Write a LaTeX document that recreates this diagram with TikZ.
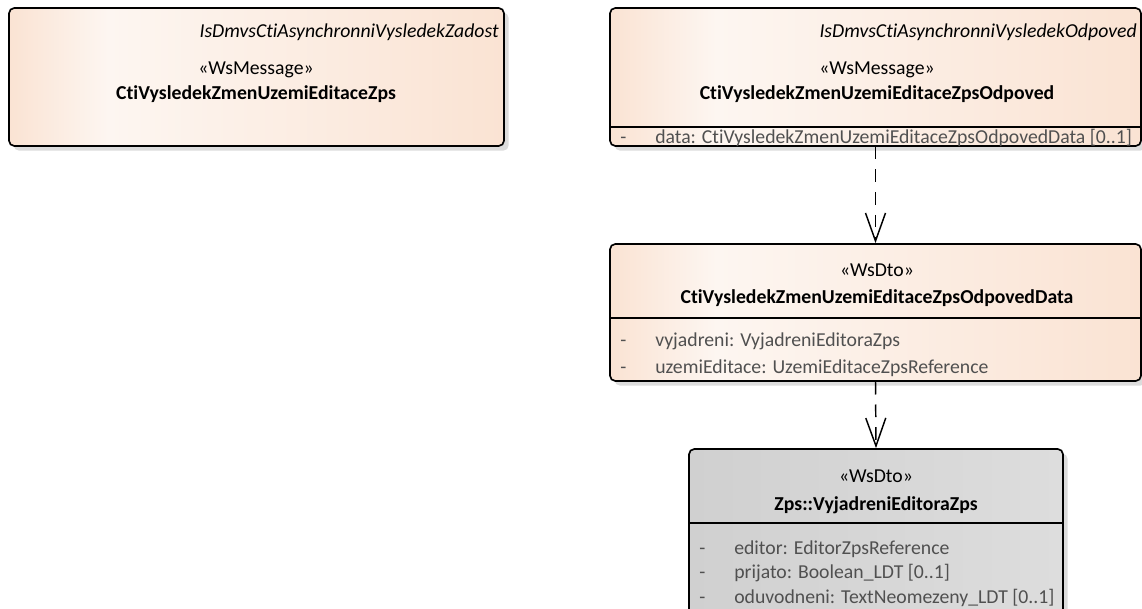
\documentclass[tikz,border=0pt]{standalone}
\usepackage{fontspec}
\setmainfont[Ligatures=NoCommon]{Carlito}
\usetikzlibrary{arrows.meta,fit,shadows}
\definecolor{pk}{RGB}{250,227,211}
\definecolor{pkl}{RGB}{253,246,241}
\definecolor{gy}{RGB}{208,208,208}
\definecolor{gyl}{RGB}{221,221,221}
\definecolor{attrc}{RGB}{80,80,80}
\definecolor{shd}{RGB}{220,220,220}
\pgfdeclarehorizontalshading{peachgrad}{100bp}{color(0bp)=(pk); color(25bp)=(pk); color(35bp)=(pkl); color(75bp)=(pk); color(100bp)=(pk)}
\pgfdeclarehorizontalshading{graygrad}{100bp}{color(0bp)=(gy); color(25bp)=(gy); color(75bp)=(gyl); color(100bp)=(gyl)}
\newcommand\fsz{\fontsize{14.8pt}{17pt}\selectfont}
\tikzset{
  umlbox/.style={draw=black, line width=1.25pt, rounded corners=4pt, inner sep=0pt,
    drop shadow={shadow xshift=3.5pt, shadow yshift=-3.5pt, fill=shd, opacity=1}},
  peachbox/.style={umlbox, shading=peachgrad},
  graybox/.style={umlbox, shading=graygrad},
  divider/.style={line width=1.25pt},
  ital/.style={font=\fsz\itshape, anchor=base east, inner sep=0pt},
  stereo/.style={font=\fsz, anchor=base, inner sep=0pt},
  cname/.style={font=\fsz\bfseries, anchor=base, inner sep=0pt},
  attr/.style={font=\fsz, text=attrc, anchor=base west, inner sep=0pt},
  dep/.style={line width=1.1pt, dash pattern=on 9.5pt off 7.5pt, -{Straight Barb[length=21pt,width=15pt]}}
}
\begin{document}
\begin{tikzpicture}[x=0.75pt,y=-0.75pt]
\clip (0,0) rectangle (1142,609);
% box 1
\node[peachbox, fit={(9,8) (504,146)}] (b1) {};
\node[ital] (b1t) at (499,38) {IsDmvsCtiAsynchronniVysledekZadost};
\node[stereo] (b1s) at (256,75) {«WsMessage»};
\node[cname] (b1n) at (256,100) {CtiVysledekZmenUzemiEditaceZps};
% box 2
\node[peachbox, fit={(610,8) (1141,146)}] (b2) {};
\node[ital] (b2t) at (1137,38) {IsDmvsCtiAsynchronniVysledekOdpoved};
\node[stereo] (b2s) at (877,75) {«WsMessage»};
\node[cname] (b2n) at (877,100) {CtiVysledekZmenUzemiEditaceZpsOdpoved};
\draw[divider] (610,127) -- (1141,127);
\node[attr] (b2d) at (620,144) {-};
\node[attr] (b2a) at (655,144) {data: CtiVysledekZmenUzemiEditaceZpsOdpovedData [0..1]};
% box 3
\node[peachbox, fit={(610,244) (1141,381)}] (b3) {};
\node[stereo] (b3s) at (877,277) {«WsDto»};
\node[cname] (b3n) at (877,304) {CtiVysledekZmenUzemiEditaceZpsOdpovedData};
\draw[divider] (610,318) -- (1141,318);
\node[attr] (b3d1) at (620,347) {-};
\node[attr] (b3a1) at (655,347) {vyjadreni: VyjadreniEditoraZps};
\node[attr] (b3d2) at (620,374) {-};
\node[attr] (b3a2) at (655,374) {uzemiEditace: UzemiEditaceZpsReference};
% box 4
\node[graybox, fit={(689,449) (1063,640)}] (b4) {};
\node[stereo] (b4s) at (876,482) {«WsDto»};
\node[cname] (b4n) at (876,510) {Zps::VyjadreniEditoraZps};
\draw[divider] (689,523) -- (1063,523);
\node[attr] (b4d1) at (699,554) {-};
\node[attr] (b4a1) at (734,554) {editor: EditorZpsReference};
\node[attr] (b4d2) at (699,578) {-};
\node[attr] (b4a2) at (734,578) {prijato: Boolean\_LDT [0..1]};
\node[attr] (b4d3) at (699,603) {-};
\node[attr] (b4a3) at (734,603) {oduvodneni: TextNeomezeny\_LDT [0..1]};
% connectors
\draw[dep] (b2.south) -- (b3.north);
\draw[dep] (b3.south) -- (b4.north);
\end{tikzpicture}
\end{document}
